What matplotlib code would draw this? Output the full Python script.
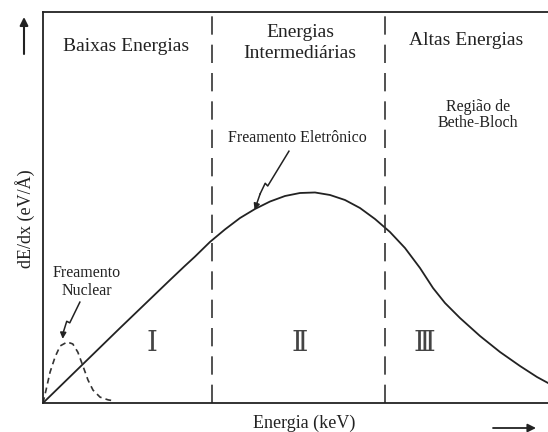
import matplotlib
matplotlib.use("Agg")
import matplotlib.pyplot as plt

plt.rcParams['font.family'] = ['Liberation Serif', 'DejaVu Serif']

# stopping power curves, energy axis 0..100, dE/dx axis 0..100 (arbitrary units)
elec_x = [0, 15.25, 25.15, 28.0, 30.10, 33.07, 36.04, 39.01, 41.98, 44.95, 47.92,
          50.89, 53.86, 56.83, 59.80, 62.77, 65.74, 68.71, 71.68, 74.65, 77.23,
          79.60, 82.57, 86.53, 90.50, 94.46, 97.82, 100]
elec_y = [0, 19.18, 31.46, 34.95, 37.45, 41.20, 44.40, 47.31, 49.62, 51.53, 52.94,
          53.71, 53.84, 53.20, 51.92, 49.87, 47.06, 43.73, 39.64, 34.53, 29.41,
          25.58, 21.74, 17.14, 13.04, 9.46, 6.65, 5.12]

nuc_x = [0, 0.6, 1.4, 2.4, 3.4, 4.8, 5.9, 6.9, 7.9, 8.9, 9.9, 11.3, 12.9, 14.3]
nuc_y = [0, 3.3, 7.9, 11.8, 14.6, 15.6, 15.1, 13.0, 9.5, 5.9, 3.3, 1.5, 0.8, 0.5]

region_edges = [33.5, 67.7]
region_titles = ["Baixas Energias", "Energias\nIntermediárias", "Altas Energias"]
region_title_pos = [(16.4, 91.3), (50.9, 92.1), (83.8, 92.8)]
numerals = ["Ⅰ", "Ⅱ", "Ⅲ"]
numeral_x = [21.6, 50.9, 75.6]

fig = plt.figure(figsize=(5.48, 4.32), dpi=100)
ax = fig.add_axes([43 / 548, 29 / 432, 505 / 548, 391 / 432])
ax.set_xlim(0, 100)
ax.set_ylim(0, 100)
ax.set_xticks([])
ax.set_yticks([])
ax.spines['right'].set_visible(False)
for s in ['left', 'bottom', 'top']:
    ax.spines[s].set_linewidth(1.3)
    ax.spines[s].set_color('#222222')

ax.plot(elec_x, elec_y, color='#222222', lw=1.3, solid_joinstyle='round')
ax.plot(nuc_x, nuc_y, color='#333333', lw=1.2, dashes=(3.5, 2.5))

for xe in region_edges:
    ax.axvline(xe, color='#333333', lw=1.2, dashes=(11, 6))

for t, (tx, ty) in zip(region_titles, region_title_pos):
    ax.text(tx, ty, t, ha='center', va='center', fontsize=14,
            color='#222222', linespacing=1.35)

ax.text(86.1, 73.7, "Região de\nBethe-Bloch", ha='center', va='center',
        fontsize=11.5, color='#222222', linespacing=1.05)
ax.text(50.3, 67.8, "Freamento Eletrônico", ha='center', va='center',
        fontsize=11.5, color='#222222')
ax.text(8.7, 30.9, "Freamento\nNuclear", ha='center', va='center',
        fontsize=11.5, color='#222222', linespacing=1.15)

for n, nx in zip(numerals, numeral_x):
    ax.text(nx, 15.3, n, ha='center', va='center', fontsize=20,
            color='#444444', family=['DejaVu Serif'])


def bolt(pts, head):
    # zig-zag pointer ending in a small arrowhead
    xs = [p[0] for p in pts]
    ys = [p[1] for p in pts]
    ax.plot(xs, ys, color='#222222', lw=1.1)
    ax.annotate("", xy=head, xytext=pts[-1],
                arrowprops=dict(arrowstyle='-|>', color='#222222', lw=1.1,
                                mutation_scale=9, shrinkA=0, shrinkB=0))


bolt([(48.7, 64.4), (44.5, 55.5), (44.0, 56.2), (43.0, 53.5)], (41.9, 49.4))
bolt([(7.3, 25.8), (5.3, 20.5), (4.7, 20.9), (4.0, 18.0)], (3.9, 16.4))

fig.text(304 / 548, 1 - 423 / 432, "Energia (keV)", ha='center', va='center',
         fontsize=13, color='#222222')
fig.text(25 / 548, 1 - 219 / 432, "dE/dx (eV/Å)", ha='center', va='center',
         rotation=90, fontsize=13, color='#222222')

ax.annotate("", xy=(24, 432 - 17), xytext=(24, 432 - 54), xycoords='figure pixels',
            textcoords='figure pixels',
            arrowprops=dict(arrowstyle='-|>', color='#222222', lw=1.5,
                            mutation_scale=12, shrinkA=0, shrinkB=0))
ax.annotate("", xy=(536, 432 - 428), xytext=(493, 432 - 428), xycoords='figure pixels',
            textcoords='figure pixels',
            arrowprops=dict(arrowstyle='-|>', color='#222222', lw=1.3,
                            mutation_scale=12, shrinkA=0, shrinkB=0))

fig.savefig("out.png", dpi=100)
